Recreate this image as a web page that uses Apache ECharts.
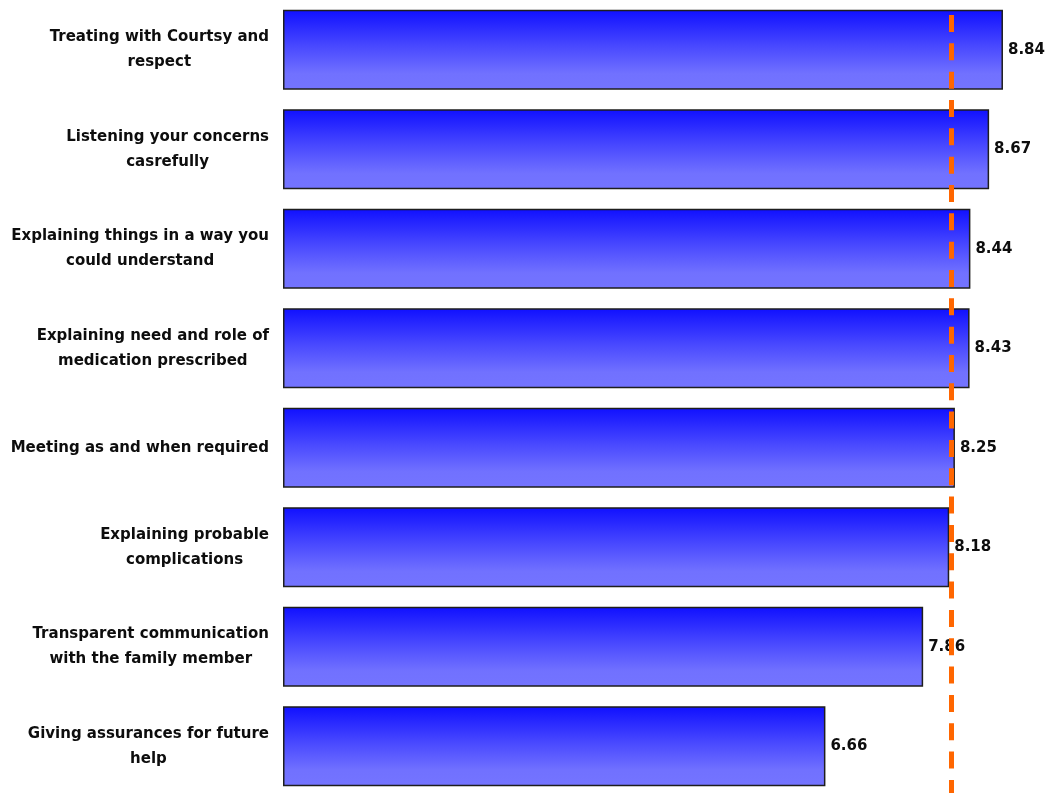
<!DOCTYPE html>
<html>
<head>
<meta charset="utf-8">
<title>Doctor communication scores</title>
<script src="https://cdn.jsdelivr.net/npm/echarts@6/dist/echarts.min.js"></script>
<style>
  html, body { margin: 0; padding: 0; background: #ffffff; }
  #chart { width: 1049px; height: 793px; }
</style>
</head>
<body>
<div id="chart"></div>
<script>
// Survey attributes, top to bottom (line breaks as shown beside each bar)
const categories = [
  'Treating with Courtsy and\nrespect',
  'Listening your concerns\ncasrefully',
  'Explaining things in a way you\ncould understand',
  'Explaining need and role of\nmedication prescribed',
  'Meeting as and when required',
  'Explaining probable\ncomplications',
  'Transparent communication\nwith the family member',
  'Giving assurances for future\nhelp'
];

// Mean score per attribute
const scores = [8.84, 8.67, 8.44, 8.43, 8.25, 8.18, 7.86, 6.66];

// Reference level drawn as the dashed vertical line
const benchmark = 8.21;

const FONT = 'DejaVu Sans';

// Dash pattern for the reference line: a short blank lead-in, then 17px dashes with 11.3px gaps
const dashPattern = [0, 15];
for (let i = 0; i < 30; i++) { dashPattern.push(17, 11.33); }

const chart = echarts.init(document.getElementById('chart'), null, { renderer: 'canvas' });

chart.setOption({
  animation: false,
  backgroundColor: '#ffffff',
  grid: {
    left: 283, top: 0, width: 733, height: 796,
    containLabel: false,
    outerBoundsMode: 'none'
  },
  xAxis: {
    type: 'value',
    min: 0,
    max: 9,
    show: false
  },
  yAxis: {
    type: 'category',
    data: categories,
    inverse: true,
    axisLine: { show: false },
    axisTick: { show: false },
    splitLine: { show: false },
    axisLabel: {
      margin: 14,
      formatter: function (value) {
        return value.split('\n').map(function (line) { return '{c|' + line + '}'; }).join('\n');
      },
      rich: {
        c: {
          align: 'center',
          fontFamily: FONT,
          fontWeight: 'bold',
          fontSize: 15,
          lineHeight: 25,
          color: '#0d0d0d'
        }
      }
    }
  },
  series: [{
    type: 'bar',
    data: scores,
    barWidth: 80,
    itemStyle: {
      borderColor: '#1e1e1e',
      borderWidth: 1.5,
      color: new echarts.graphic.LinearGradient(0, 0, 0, 1, [
        { offset: 0, color: '#1010ff' },
        { offset: 0.45, color: '#4848ff' },
        { offset: 0.8, color: '#7171ff' },
        { offset: 1, color: '#7474ff' }
      ])
    },
    label: {
      show: true,
      position: 'right',
      distance: 5,
      fontFamily: FONT,
      fontWeight: 'bold',
      fontSize: 15,
      color: '#0d0d0d',
      formatter: function (p) { return p.value.toFixed(2); }
    },
    markLine: {
      silent: true,
      symbol: ['none', 'none'],
      label: { show: false },
      lineStyle: {
        color: '#ff6600',
        width: 5,
        type: dashPattern,
        cap: 'butt'
      },
      data: [{ xAxis: benchmark }]
    }
  }]
});
</script>
</body>
</html>
